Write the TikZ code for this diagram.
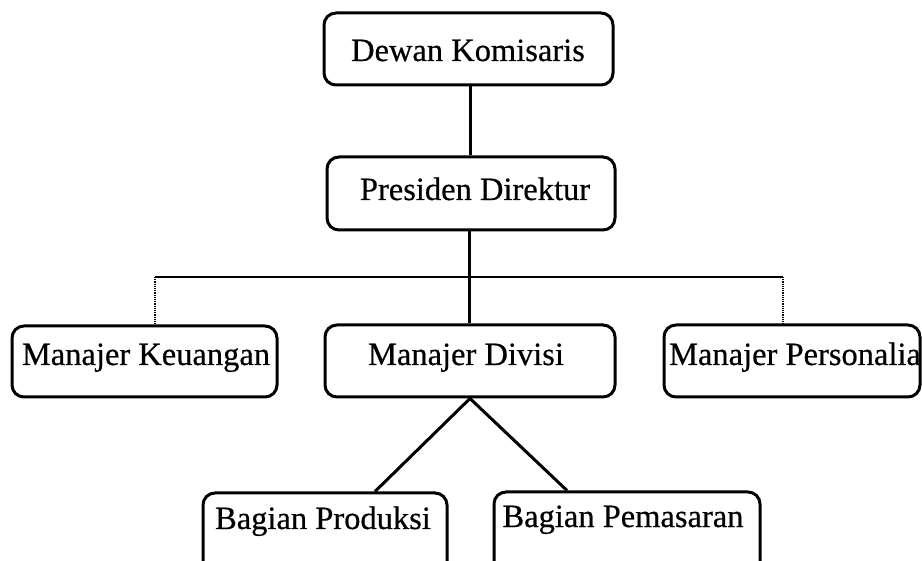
\documentclass[tikz,border=0pt]{standalone}
\usepackage{fontspec}
\setmainfont{Liberation Serif}
\newfontfamily\heavyserif[FakeBold=0.5]{Liberation Serif}
\tikzset{
  box/.style={draw=black, line width=3pt, rounded corners=12pt, inner sep=0pt},
  lbl/.style={inner sep=0pt, font=\heavyserif\fontsize{32.5}{36}\selectfont, anchor=base},
  solidline/.style={line width=3pt},
  thinline/.style={line width=1.5pt},
  dotline/.style={line width=2.4pt, dash pattern=on 1.2pt off 1pt}
}
\begin{document}
\begin{tikzpicture}[x=1pt,y=-1pt]
\useasboundingbox (0,0) rectangle (922,561);
\clip (0,0) rectangle (922,561);
% boxes
\node[box, minimum width=289pt, minimum height=72pt] (dk) at (468.5,49) {};
\node[box, minimum width=288pt, minimum height=73pt] (pd) at (471,193.5) {};
\node[box, minimum width=265pt, minimum height=71pt] (mk) at (144.5,361.5) {};
\node[box, minimum width=290pt, minimum height=72pt] (md) at (470,361) {};
\node[box, minimum width=256pt, minimum height=72pt] (mp) at (792,361) {};
\node[box, minimum width=244pt, minimum height=82pt] (bp) at (325,534) {};
\node[box, minimum width=266pt, minimum height=82pt] (bm) at (627,533) {};
% texts
\node[lbl] (dkt) at (468,61) {Dewan Komisaris};
\node[lbl] (pdt) at (475,200) {Presiden Direktur};
\node[lbl] (mkt) at (146,365) {Manajer Keuangan};
\node[lbl] (mdt) at (466,365) {Manajer Divisi};
\node[lbl] (mpt) at (795,365) {Manajer Personalia};
\node[lbl] (bpt) at (323,529) {Bagian Produksi};
\node[lbl] (bmt) at (623,527) {Bagian Pemasaran};
% connectors
\draw[solidline] (dk.south -| 470,0) -- (pd.north -| 470,0);
\draw[solidline] (pd.south -| 469,0) -- (md.north -| 469,0);
\coordinate (kl) at (155,277);
\coordinate (kr) at (783,277);
\draw[thinline] (kl) -- (kr);
\draw[dotline] (kl) -- (kl |- mk.north);
\draw[dotline] (kr) -- (kr |- mp.north);
\draw[solidline] (md.south) -- ([xshift=50pt]bp.north);
\draw[solidline] (md.south) -- ([xshift=-60pt]bm.north);
\end{tikzpicture}
\end{document}
